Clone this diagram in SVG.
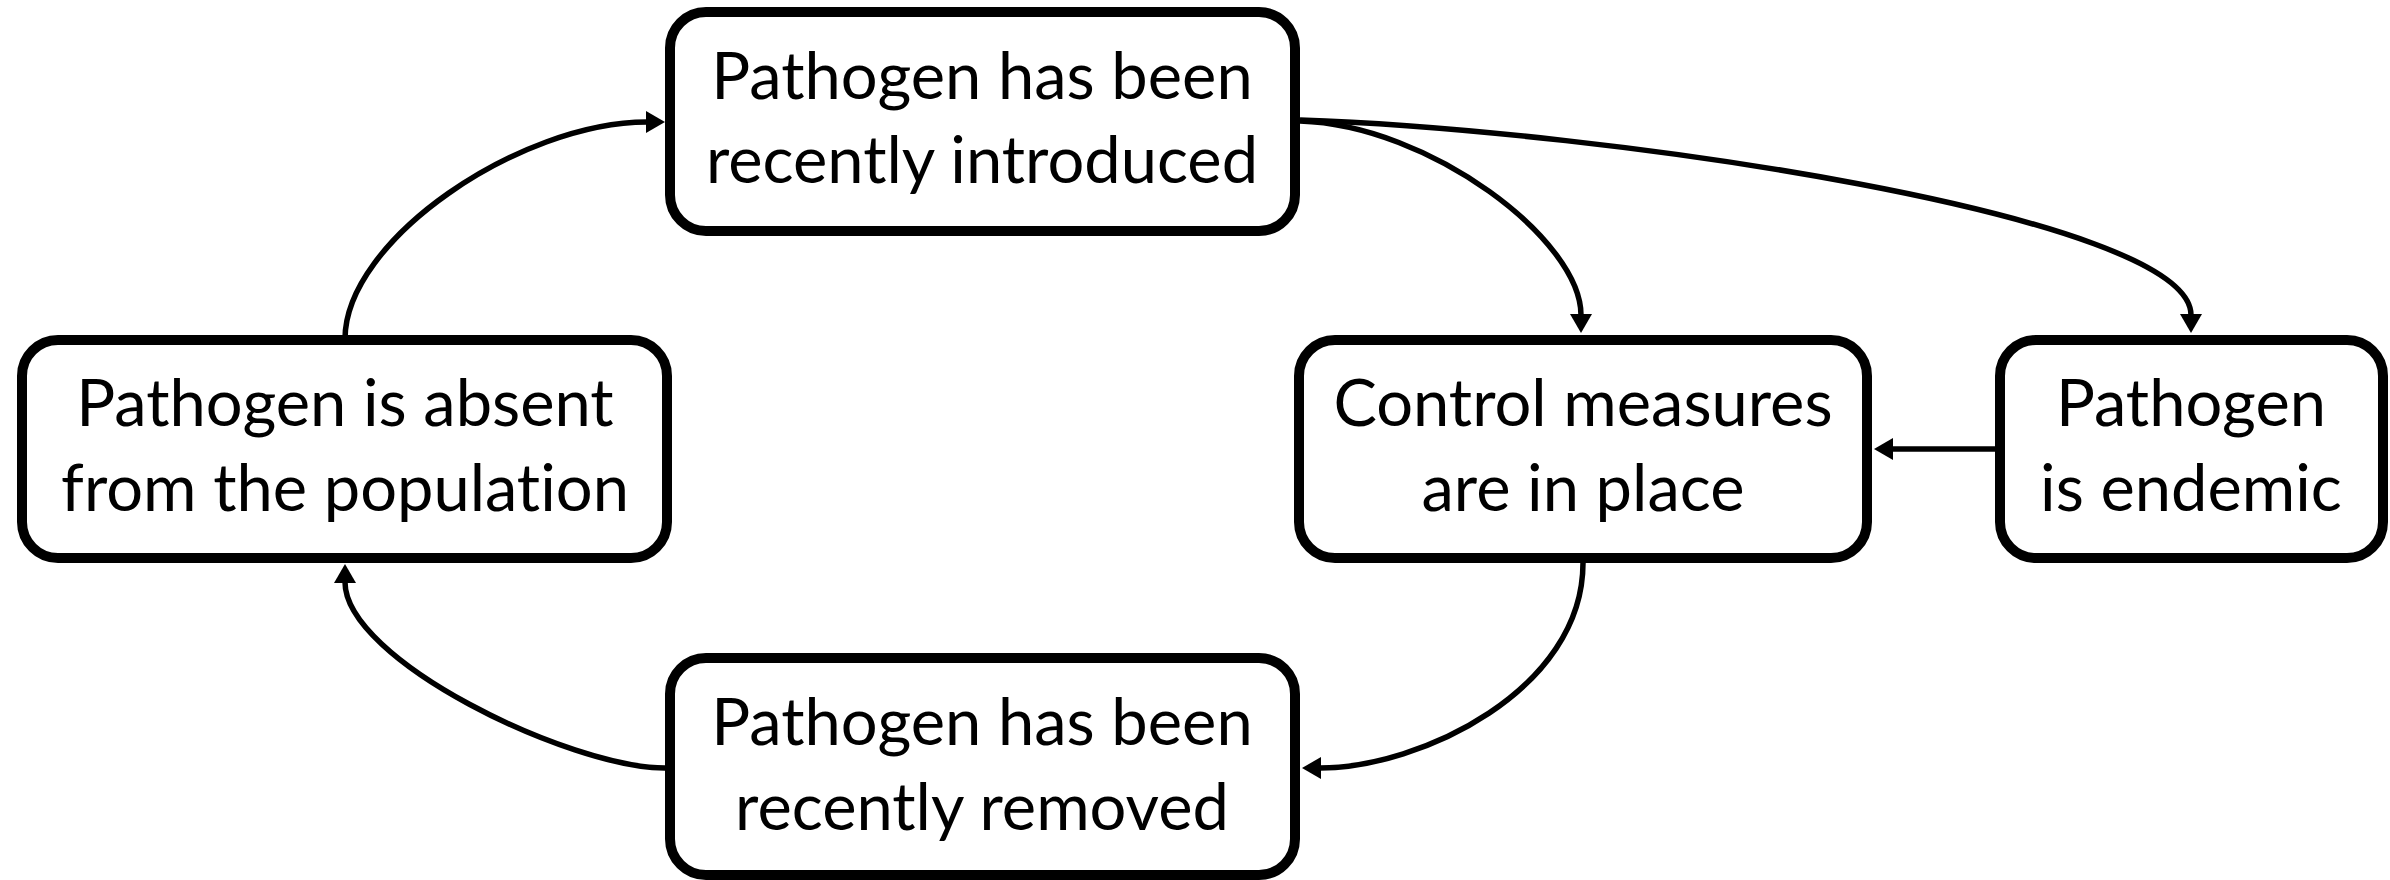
<svg xmlns="http://www.w3.org/2000/svg" width="2390" height="880" viewBox="0 0 2390 880">
<style>
.box{fill:#fff;stroke:#000;stroke-width:10}
.lbl{font-family:Lato,"Open Sans","Liberation Sans",sans-serif;font-size:65px;fill:#000;text-anchor:middle;font-variant-ligatures:none;font-feature-settings:"liga" 0}
.con{fill:none;stroke:#000;stroke-width:5.5}
</style>
<defs>
<marker id="arr" markerUnits="userSpaceOnUse" markerWidth="20" markerHeight="24" refX="1" refY="11" orient="auto">
<path d="M0,0 L19,11 L0,22 Z" fill="#000"/>
</marker>
</defs>
<rect width="2390" height="880" fill="#fff"/>
<g id="connectors">
<path class="con" d="M345,339 C345,240 520,122 647,122" marker-end="url(#arr)"/>
<path class="con" d="M665,768 C570,768 345,660 345,582" marker-end="url(#arr)"/>
<path class="con" d="M1300,121 C1430,125 1581,240 1581,315" marker-end="url(#arr)"/>
<path class="con" d="M1300,120 C1600,130 2191,215 2191,315" marker-end="url(#arr)"/>
<path class="con" d="M1583,563 C1583,690 1420,768 1320,768" marker-end="url(#arr)"/>
<path class="con" d="M1995,449 L1892,449" marker-end="url(#arr)"/>
</g>
<g id="introduced">
<rect class="box" x="670" y="12" width="625" height="219" rx="36"/>
<text class="lbl" x="982" y="99">Pathogen has been</text>
<text class="lbl" x="982" y="183">recently introduced</text>
</g>
<g id="absent">
<rect class="box" x="22" y="340" width="645" height="218" rx="36"/>
<text class="lbl" x="345" y="426">Pathogen is absent</text>
<text class="lbl" x="345" y="511">from the population</text>
</g>
<g id="control">
<rect class="box" x="1299" y="340" width="568" height="218" rx="36"/>
<text class="lbl" x="1583" y="426">Control measures</text>
<text class="lbl" x="1583" y="511">are in place</text>
</g>
<g id="endemic">
<rect class="box" x="2000" y="340" width="383" height="218" rx="36"/>
<text class="lbl" x="2191" y="426">Pathogen</text>
<text class="lbl" x="2191" y="511">is endemic</text>
</g>
<g id="removed">
<rect class="box" x="670" y="658" width="625" height="217" rx="36"/>
<text class="lbl" x="982" y="745">Pathogen has been</text>
<text class="lbl" x="982" y="830">recently removed</text>
</g>
</svg>
